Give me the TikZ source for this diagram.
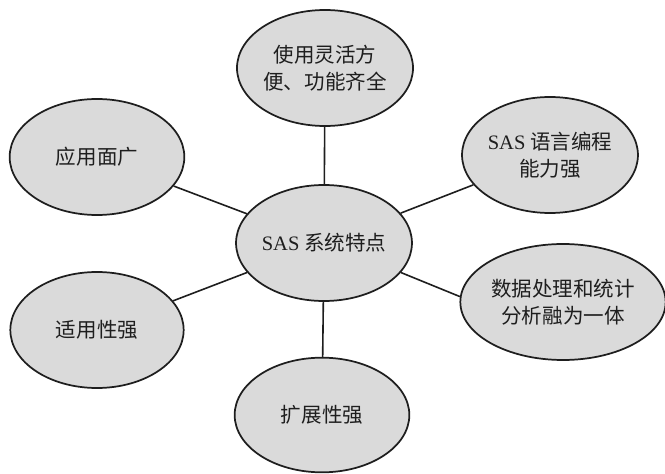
\documentclass[tikz,border=0pt]{standalone}
\usepackage{fontspec}
\setmainfont{Liberation Serif}
\newfontfamily\cjk{Noto Sans CJK SC}
\usepackage{tikz}
\usetikzlibrary{shapes.geometric}
\usepackage{xcolor}
\definecolor{bubblegray}{RGB}{218,218,218}
\definecolor{inkgray}{RGB}{30,30,30}

\begin{document}
\begin{tikzpicture}[x=0.75pt,y=-0.75pt,
    bubble/.style={ellipse, draw=inkgray, line width=1.3pt, fill=bubblegray,
        inner sep=0pt, align=center, text=inkgray,
        minimum width=131pt, minimum height=87pt,
        font=\fontsize{15.4}{20.5}\selectfont\cjk},
    spoke/.style={draw=inkgray, line width=1.2pt}]
    \useasboundingbox (0,0) rectangle (665,474);

    % Hub
    \node[bubble] (hub) at (324,243) {{\rmfamily SAS} 系统特点};

    % Features
    \node[bubble, minimum width=132pt] (flexible) at (325,68)
        {使用灵活方\\便、功能齐全};
    \node[bubble] (wide) at (97,157) {应用面广};
    \node[bubble, minimum width=130.5pt] (language) at (550,155)
        {{\rmfamily SAS} 语言编程\\能力强};
    \node[bubble, minimum width=154pt] (merge) at (563,302)
        {数据处理和统计\\分析融为一体};
    \node[bubble, minimum width=130pt] (adapt) at (97,330) {适用性强};
    \node[bubble, minimum height=86pt] (extend) at (322,415) {扩展性强};

    % Spokes
    \foreach \leaf in {flexible,wide,language,adapt,extend}
        \draw[spoke] (hub) -- (\leaf);
    \draw[spoke] (hub.-21) -- (merge.177);
\end{tikzpicture}
\end{document}
